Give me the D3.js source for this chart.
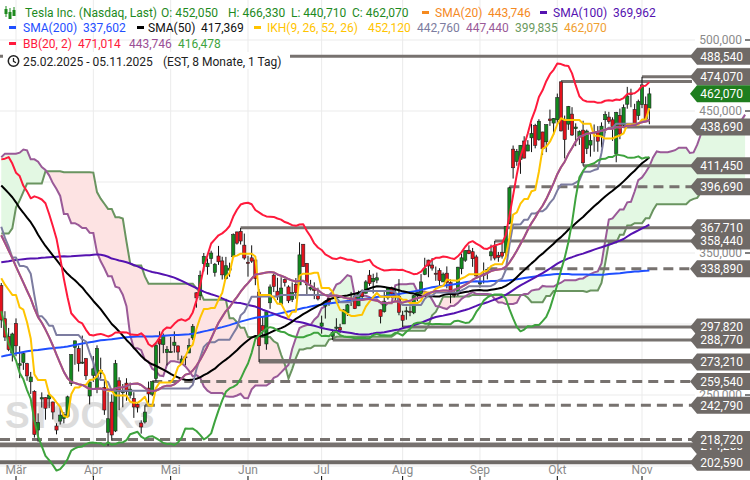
<!DOCTYPE html>
<html><head><meta charset="utf-8">
<script src="https://cdn.jsdelivr.net/npm/d3@7"></script>
<style>body{margin:0;background:#fff;}svg{display:block;font-family:Roboto,"Liberation Sans",sans-serif;}</style>
</head><body><svg id="c" width="750" height="480"></svg>
<script>
// ---- warm-up closes (01.05.2024 - 24.02.2025), needed for the moving averages ----
const warmClose = [179.99,180.01,181.19,184.76,177.81,174.72,171.97,168.47,171.89,177.55,173.99,174.84,177.46,174.95,186.60,180.11,173.74,179.24,176.75,176.19,178.79,178.08,
176.29,174.77,175.00,177.94,177.48,173.79,170.66,177.29,182.47,178.01,187.44,184.86,181.57,183.01,182.58,187.35,196.37,197.42,197.88,
209.86,231.26,246.39,251.52,252.94,262.33,263.26,241.03,248.23,252.64,256.56,248.50,249.23,239.20,251.51,246.38,215.99,220.25,219.80,232.10,222.62,232.07,
216.86,207.67,198.88,200.64,191.76,198.84,200.00,197.49,207.83,201.38,214.14,216.12,222.72,221.10,223.27,210.66,220.32,213.21,209.21,205.75,206.28,214.11,
210.60,219.41,230.17,210.73,216.27,226.17,228.13,229.81,230.29,226.78,227.87,227.20,243.92,238.25,250.00,254.27,257.02,254.22,260.46,261.63,
258.02,249.02,240.66,250.08,240.83,244.50,241.05,238.77,217.80,219.16,219.57,221.33,220.89,220.70,218.85,217.97,213.65,260.48,269.19,262.51,259.52,257.55,249.85,
248.98,242.84,251.44,288.53,296.91,321.22,350.00,328.49,330.24,311.18,320.72,338.74,346.00,342.03,339.64,352.56,338.59,338.23,332.89,345.16,
357.09,351.42,357.93,369.49,389.22,389.79,400.99,424.77,418.10,436.23,463.02,479.86,440.13,436.17,421.06,430.60,462.28,454.13,431.66,417.41,403.84,
379.28,410.44,411.05,394.36,394.94,394.74,403.31,396.36,428.22,413.82,426.50,424.07,415.11,412.38,406.58,397.15,398.09,389.10,400.28,404.60,
383.68,392.21,378.17,374.32,361.62,350.73,328.50,336.51,355.94,355.84,354.11,360.56,354.40,337.80,330.53];
// warm-up highs / lows (28.10.2024 - 24.02.2025), needed for Ichimoku
const warmHigh = [273.54,264.98,263.92,259.75,
254.00,248.90,255.28,289.59,299.75,328.71,358.64,345.84,344.60,329.98,324.68,348.55,347.38,346.60,347.99,361.53,361.93,346.96,342.55,345.38,
360.00,355.69,358.10,375.43,389.49,404.80,409.73,424.88,429.30,436.30,463.19,483.99,488.54,456.36,447.08,434.51,462.78,465.33,450.00,427.00,427.93,
403.00,411.88,426.43,414.33,402.50,399.28,403.79,422.64,429.80,424.00,439.74,433.20,428.00,420.00,418.88,406.69,400.59,398.59,412.50,419.99,
389.17,394.00,388.39,380.19,380.55,362.70,349.37,346.40,358.69,362.00,359.10,367.34,361.48,358.34,342.40];
const warmLow = [262.24,255.51,255.79,249.25,
246.63,238.88,246.21,275.62,285.52,297.66,336.00,323.31,322.50,310.37,309.22,330.01,332.75,334.30,335.28,337.70,338.20,335.66,326.59,334.11,
351.15,348.20,348.60,359.50,370.80,378.01,390.85,402.38,415.00,415.71,436.15,457.16,427.01,420.02,417.64,415.41,435.14,451.02,426.50,415.75,402.54,
374.35,379.45,401.70,390.00,387.40,377.29,380.07,394.54,405.66,409.13,419.75,406.31,414.59,405.33,405.78,389.00,386.50,384.48,384.41,401.34,
374.36,381.40,375.53,368.62,360.34,350.51,325.10,329.12,342.85,347.50,350.02,353.67,348.00,336.00,324.70];

// ---- displayed daily candles 25.02.2025 - 05.11.2025 ----
const opens = [327.00,303.71,291.16,279.50,300.34,270.93,272.92,272.06,259.32,252.54,225.31,247.22,248.13,247.31,245.06,228.16,231.61,233.35,234.99,258.08,283.60,282.66,272.48,275.58,249.31,
263.80,254.60,265.29,255.38,223.78,245.00,224.69,260.00,251.84,258.36,249.91,247.61,243.47,230.26,230.96,254.86,250.50,261.69,288.98,285.50,279.90,
280.01,284.90,284.57,273.11,276.88,279.63,290.21,321.99,320.00,342.50,340.34,346.24,336.30,347.87,344.43,331.90,337.92,347.35,364.84,365.29,355.52,
343.50,346.60,345.10,322.49,298.83,285.96,314.94,334.40,323.08,313.97,331.29,326.09,317.31,327.95,327.54,356.17,342.70,324.61,324.51,319.90,
298.46,312.63,317.99,291.37,297.00,297.55,300.05,307.89,317.73,319.68,312.80,323.15,321.66,334.40,329.74,330.90,310.00,308.74,318.45,325.55,321.66,319.61,
306.21,309.08,308.95,307.89,319.79,321.43,335.00,345.00,341.50,335.76,337.66,329.62,335.79,329.22,322.08,321.66,338.90,344.93,351.94,350.91,347.23,
328.23,335.20,336.15,348.00,354.64,348.44,350.55,350.17,370.94,423.13,414.50,415.75,428.87,421.82,431.11,439.88,429.83,435.24,428.30,444.35,441.52,
443.80,470.54,443.29,440.75,447.82,437.57,431.81,436.54,423.53,426.00,434.73,434.73,432.11,443.87,445.76,443.80,420.00,446.83,439.98,454.78,462.50,451.05,446.75,
454.46,454.46,452.05];
const highs = [328.89,309.00,297.23,293.88,303.94,284.35,279.55,272.65,266.25,253.37,237.06,251.84,248.29,251.58,245.40,230.10,241.41,238.00,249.52,278.64,288.20,284.90,291.85,276.10,260.56,
277.45,284.99,276.30,261.00,252.00,250.44,274.69,262.49,257.74,261.80,258.75,251.97,244.34,232.21,242.79,259.45,259.54,286.85,294.86,293.32,284.45,
290.87,294.78,284.85,277.73,277.92,289.80,300.00,322.21,337.59,350.00,346.14,351.62,343.00,354.99,347.35,347.27,343.18,363.79,365.00,367.71,363.68,
348.02,355.40,345.60,324.55,305.50,309.83,327.83,335.50,332.56,332.99,332.05,327.26,329.32,332.36,357.54,356.26,343.00,331.05,329.34,325.58,
305.89,316.83,318.45,296.15,304.05,300.15,310.48,314.09,322.60,321.20,323.50,324.34,330.90,338.00,335.41,336.20,310.15,323.63,325.59,326.25,324.33,331.62,
309.31,312.12,312.45,320.47,322.40,335.15,346.64,345.26,346.46,340.47,339.30,336.27,340.55,331.37,324.90,340.25,349.53,351.90,355.39,353.55,348.75,
333.33,343.33,338.89,355.87,358.44,350.77,356.33,368.99,396.69,425.70,423.25,425.88,432.22,429.47,440.97,440.97,444.21,435.35,440.47,450.98,445.00,
462.29,470.75,446.77,453.55,452.68,441.33,436.35,443.13,436.89,434.20,440.51,439.35,441.99,449.80,449.40,445.54,449.40,451.68,454.60,467.00,465.70,455.06,458.00,
474.07,460.22,466.33];
const lows = [297.25,288.04,280.88,273.60,277.30,261.84,267.71,260.02,250.73,220.00,217.02,241.10,232.60,240.73,232.80,222.28,229.20,230.05,234.55,256.33,271.28,266.51,271.82,260.57,243.36,
259.25,251.27,261.51,236.00,214.25,217.80,223.88,239.33,241.36,245.93,247.54,233.89,237.68,222.79,229.85,244.43,249.20,259.63,272.42,279.47,270.78,
279.81,279.81,274.40,271.35,271.00,279.41,288.77,311.50,316.80,337.00,334.72,342.33,333.37,341.63,331.33,331.39,333.21,347.32,355.91,356.00,345.29,
333.33,343.04,327.33,273.21,291.14,281.85,310.67,322.50,316.86,313.30,326.41,314.74,315.45,317.78,327.48,340.44,320.40,323.61,317.50,316.60,
293.21,303.82,312.76,288.77,294.35,293.55,300.00,305.65,312.67,310.50,312.62,317.06,321.42,326.88,321.55,328.67,300.41,308.01,317.17,318.25,315.76,306.14,
297.82,303.00,305.50,306.93,316.16,320.98,334.40,332.94,337.60,330.40,327.02,329.59,325.10,314.60,318.68,319.69,335.03,343.72,349.16,340.26,331.70,
325.60,328.51,331.48,344.68,344.84,343.82,346.07,347.60,370.24,402.43,411.43,405.75,416.56,421.72,421.05,423.72,429.03,419.08,421.02,439.50,433.12,
440.75,435.57,416.58,436.69,432.45,425.23,426.18,411.45,419.70,417.86,421.31,421.31,424.30,434.51,441.00,429.00,413.90,430.17,438.01,451.60,452.65,439.61,443.69,
452.00,443.69,440.71];
const closes = [302.80,290.80,281.95,292.98,284.65,272.04,279.10,263.45,262.67,222.15,230.58,248.09,240.68,249.98,238.01,225.31,235.86,236.26,248.71,278.39,288.14,272.06,273.13,263.55,259.16,
268.46,282.76,267.28,239.43,233.29,221.86,272.20,252.40,252.31,252.35,254.11,241.55,241.37,227.50,237.97,250.74,259.51,284.95,285.88,292.03,282.16,
280.52,287.21,280.26,275.35,276.22,284.82,298.26,318.38,334.07,347.68,342.82,349.98,342.09,343.82,334.62,341.04,339.34,362.89,356.90,358.43,346.46,
342.69,344.27,332.05,284.70,295.14,308.58,326.09,326.43,319.11,325.31,329.13,316.35,322.05,322.16,348.68,340.47,327.55,325.78,323.63,317.66,
300.71,315.65,315.35,293.94,297.81,295.88,309.87,313.51,316.90,310.78,321.67,319.41,329.65,328.49,332.11,332.56,305.30,316.06,325.59,321.20,319.04,308.27,
302.63,309.26,308.72,319.91,322.27,329.65,339.03,340.84,339.38,335.58,330.56,335.16,329.31,323.90,320.11,340.01,346.60,351.67,349.60,345.98,333.87,
329.36,334.09,338.53,350.84,346.40,346.97,347.79,368.81,395.94,410.04,421.62,425.86,416.85,426.07,434.21,425.85,442.79,423.39,440.40,443.21,444.72,
459.46,436.00,429.83,453.25,433.09,438.69,435.54,413.49,435.90,429.24,435.15,428.75,439.31,447.43,442.60,438.97,448.98,433.72,452.42,460.55,461.51,440.10,456.56,
468.37,444.26,462.07];

// month ticks (index of first trading day of each month in the displayed range)
const monthNames = ["Mär","Apr","Mai","Jun","Jul","Aug","Sep","Okt","Nov"];
const monthIdx = [4,25,46,67,87,109,130,151,174];
const gridValues = [500,450,400,350,300,250,200];
const yTickLabels = [500,450,350,250];   // the ones not hidden behind level tags

// support / resistance levels and the candle index where each starts (null = before window)
const levelValues = [488.54,474.07,470.75,438.69,411.45,396.69,367.71,358.44,338.89,297.82,288.77,274.30,273.21,259.54,242.79,218.72,215.50,214.25,202.59];
const levelStart  = [null,174,152,169,158,138,65,134,132,109,90,70,70,41,39,null,null,null,null];
const dashedLevels = [396.69,338.89,259.54,242.79,218.72];
const unlabelled = [470.75,274.30,215.50];
const lastPrice = 462.07;

// ---------------------------------------------------------------
const svg = d3.select("#c");
const x = d3.scaleLinear().domain([4,174]).range([16,642]);
const y = d3.scaleLinear().domain([200,500]).range([466,40]);
const N = closes.length;
const allClose = warmClose.concat(closes), CW = warmClose.length;
const hiAll = warmHigh.concat(highs), loAll = warmLow.concat(lows), HW = warmHigh.length;
const fmtDE = v => v.toFixed(3).replace(".",",");

function sma(n){ return d3.range(N).map(i => d3.mean(allClose.slice(CW+i-n+1, CW+i+1))); }
const sma20 = sma(20), sma50 = sma(50), sma100 = sma(100), sma200 = sma(200);
const bbUp = [], bbLo = [];
for (let i=0;i<N;i++){
  const w = allClose.slice(CW+i-19, CW+i+1), m = sma20[i];
  const sd = Math.sqrt(d3.mean(w, v => (v-m)*(v-m)));
  bbUp.push(m+2*sd); bbLo.push(m-2*sd);
}
function mid(g,n){ const h=d3.max(hiAll.slice(g-n+1,g+1)), l=d3.min(loAll.slice(g-n+1,g+1)); return (h+l)/2; }
const tenkan = d3.range(N).map(i => mid(HW+i,9));
const kijun  = d3.range(N).map(i => mid(HW+i,26));
const cloud = d3.range(N+26).map(j => { const g = HW+j-26; return {i:j, a:(mid(g,9)+mid(g,26))/2, b:mid(g,52)}; });

// grid
const grid = svg.append("g");
gridValues.forEach(v => grid.append("line").attr("x1",0).attr("x2",695).attr("y1",y(v)).attr("y2",y(v)).attr("stroke","#ebebeb"));
monthIdx.forEach(i => grid.append("line").attr("x1",x(i)).attr("x2",x(i)).attr("y1",0).attr("y2",466).attr("stroke","#ebebeb"));

// watermark
svg.append("text").attr("x",5).attr("y",428).attr("font-family","'Liberation Sans',Arial,sans-serif").attr("font-weight","bold")
  .attr("font-size",37).attr("fill","#dcdcdc").text("STOCK3");

// cloud
svg.append("path").datum(cloud).attr("fill","#e3f8e3")
  .attr("d", d3.area().x(d=>x(d.i)).y0(d=>y(d.b)).y1(d=>y(Math.max(d.a,d.b))));
svg.append("path").datum(cloud).attr("fill","#fde3e3")
  .attr("d", d3.area().x(d=>x(d.i)).y0(d=>y(d.b)).y1(d=>y(Math.min(d.a,d.b))));
svg.append("path").datum(cloud).attr("fill","none").attr("stroke","#6a9460").attr("stroke-width",2)
  .attr("d", d3.line().x(d=>x(d.i)).y(d=>y(d.b)));
svg.append("path").datum(cloud).attr("fill","none").attr("stroke","#9a5a98").attr("stroke-width",2)
  .attr("d", d3.line().x(d=>x(d.i)).y(d=>y(d.a)));

// level lines
levelValues.forEach((v,k) => {
  const x0 = levelStart[k]===null ? 0 : x(levelStart[k]);
  svg.append("line").attr("x1",x0).attr("x2",692).attr("y1",y(v)).attr("y2",y(v))
    .attr("stroke", v===202.59 ? "#6f6a67" : "#77726f").attr("stroke-width", v===202.59 ? 4 : 3)
    .attr("stroke-dasharray", dashedLevels.includes(v) ? "10,6" : null);
});

// candles
const cg = svg.append("g");
for (let i=0;i<N;i++){
  const up = closes[i] >= opens[i];
  cg.append("line").attr("x1",x(i)).attr("x2",x(i)).attr("y1",y(highs[i])).attr("y2",y(lows[i])).attr("stroke","#111").attr("stroke-width",1);
  const top = y(Math.max(opens[i],closes[i])), bot = y(Math.min(opens[i],closes[i]));
  cg.append("rect").attr("x",x(i)-1.6).attr("y",top).attr("width",3.2).attr("height",Math.max(1,bot-top))
    .attr("fill", up ? "#12891e" : "#e3121c").attr("stroke","#222").attr("stroke-width",0.6);
}

// indicator lines
const ln = d3.line().x((d,i)=>x(i)).y(d=>y(d));
[[sma200,"#1f4fff"],[sma100,"#5512b0"],[sma50,"#000000"],[kijun,"#7c7ca0"],[tenkan,"#ffc400"],
 [sma20,"#f58a1f"],[bbLo,"#3ea33e"],[bbUp,"#ff1a3c"],[sma20,"#9b4f96"]].forEach(([d,c]) => {
  svg.append("path").datum(d).attr("fill","none").attr("stroke",c).attr("stroke-width",2).attr("stroke-linejoin","round").attr("d",ln);
});

// bottom axis
monthIdx.forEach((i,k) => {
  svg.append("text").attr("x",x(i)).attr("y",474).attr("text-anchor","middle").attr("font-size",12).attr("fill","#8a8a8a").text(monthNames[k]);
  svg.append("line").attr("x1",x(i)).attr("x2",x(i)).attr("y1",476).attr("y2",480).attr("stroke","#000");
});

// right axis labels
gridValues.filter(v => v>200).forEach(v => {
  svg.append("line").attr("x1",745).attr("x2",750).attr("y1",y(v)).attr("y2",y(v)).attr("stroke","#000");
});
yTickLabels.forEach(v => {
  svg.append("text").attr("x",742).attr("y",y(v)).attr("dy","0.35em").attr("text-anchor","end").attr("font-size",12).attr("fill","#8a8a8a")
    .text(fmtDE(v));
});

// tags
function tag(v, fill){
  const yc = y(v);
  svg.append("path").attr("d",`M690,${yc} L697,${yc-8.5} L750,${yc-8.5} L750,${yc+8.5} L697,${yc+8.5} Z`).attr("fill",fill);
  svg.append("text").attr("x",743).attr("y",yc).attr("dy","0.36em").attr("text-anchor","end").attr("font-size",12).attr("fill","#fff").text(fmtDE(v));
}
const tagOrder = levelValues.filter(v => !unlabelled.includes(v)).sort((a,b)=> (a===214.25?-1:b===214.25?1:b-a));
tagOrder.forEach(v => tag(v,"#6f6a67"));
tag(lastPrice,"#1e7e1e");

// legend
const L = svg.append("g").attr("font-size",12);
L.append("rect").attr("x",3).attr("y",52).attr("width",287).attr("height",17).attr("fill","#fff");
function t(xp,yp,txt,col){ L.append("text").attr("x",xp).attr("y",yp).attr("fill",col).text(txt); }
function bar(xp,yp,col){ L.append("rect").attr("x",xp).attr("y",yp-6).attr("width",7).attr("height",3).attr("fill",col); }
// candle icon
[[6,4,9,5,15],[10,6,12,7,16],[14,5,10,6,14]].forEach(([cx,y1,yb,h,y2]) => {
  L.append("line").attr("x1",cx).attr("x2",cx).attr("y1",y1+2).attr("y2",y2+2).attr("stroke","#1e8a1e");
  L.append("rect").attr("x",cx-1.5).attr("y",yb).attr("width",3).attr("height",h).attr("fill","#1e8a1e");
});
const G="#1e8a1e";
t(25,17,"Tesla Inc. (Nasdaq, Last)",G); t(161,17,"O: 452,050",G); t(228,17,"H: 466,330",G); t(291,17,"L: 440,710",G); t(352,17,"C: 462,070",G);
bar(422,17,"#f58a1f"); t(435,17,"SMA(20)","#f58a1f"); t(488,17,"443,746","#f58a1f");
bar(540,17,"#5512b0"); t(553,17,"SMA(100)","#5512b0"); t(613,17,"369,962","#5512b0");
bar(9,32,"#1f4fff"); t(23,32,"SMA(200)","#1f4fff"); t(83,32,"337,602","#1f4fff");
bar(137,32,"#000"); t(148,32,"SMA(50)","#111"); t(201,32,"417,369","#111");
bar(254,32,"#ffc400"); t(267,32,"IKH(9, 26, 52, 26)","#ffc400"); t(368,32,"452,120","#ffc400");
t(417,32,"442,760","#7c7ca0"); t(466,32,"447,440","#9a5a98"); t(515,32,"399,835","#6b9a5e"); t(564,32,"462,070","#f0a030");
bar(9,48,"#ff1a3c"); t(23,48,"BB(20, 2)","#ff1a3c"); t(78,48,"471,014","#ff1a3c"); t(129,48,"443,746","#9b4f96"); t(178,48,"416,478","#3ea33e");
L.append("circle").attr("cx",13.5).attr("cy",61).attr("r",5.2).attr("fill","none").attr("stroke","#222").attr("stroke-width",1.5);
L.append("path").attr("d","M13.5,58 L13.5,61.3 L16,62.8").attr("fill","none").attr("stroke","#222").attr("stroke-width",1.3);
t(23,65.5,"25.02.2025 - 05.11.2025","#222"); t(163,65.5,"(EST, 8 Monate, 1 Tag)","#222");
</script></body></html>
